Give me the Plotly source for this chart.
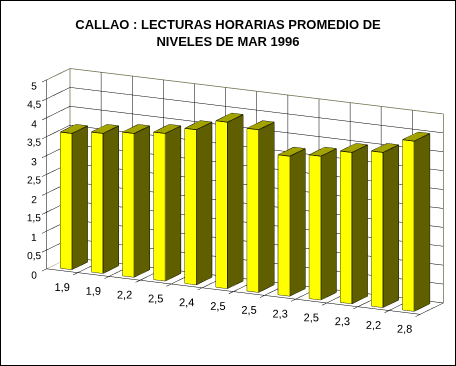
import plotly.graph_objects as go
import numpy as np

# ---------------- data ----------------
categories = ["1,9", "1,9", "2,2", "2,5", "2,4", "2,5", "2,5", "2,3", "2,5", "2,3", "2,2", "2,8"]
values = [3.6, 3.7, 3.8, 3.9, 4.1, 4.4, 4.3, 3.7, 3.8, 4.0, 4.1, 4.5]
z_tickvals = [0, 0.5, 1, 1.5, 2, 2.5, 3, 3.5, 4, 4.5, 5]
z_ticktext = ["0", "0,5", "1", "1,5", "2", "2,5", "3", "3,5", "4", "4,5", "5"]
title_text = "CALLAO : LECTURAS HORARIAS PROMEDIO DE<br>NIVELES DE MAR 1996"

# ---------------- geometry (style) ----------------
N = len(categories)
DEPTH = 1.5          # floor depth in category widths
ZMAX = 5
YMIN = -0.3          # room for tick marks in front of the floor
ZMIN = -0.7          # room for category labels under the floor
HW = 0.185           # bar half width
Y0, Y1 = 0.25, 1.25  # bar depth span
YELLOW = "#FFFF00"
SIDE = "#5F5F00"
TOP = "#A3A300"
OLIVE_EDGE = "#6E6E50"
SCALE = 2.32
ZWORLD = 5.6         # world height of 5 value units (in category widths)

# ---------------- bars as mesh ----------------
vx, vy, vz, I, J, K, fc = [], [], [], [], [], [], []
ex, ey, ez = [], [], []
for i, h in enumerate(values):
    cx = i + 0.5
    x0, x1 = cx - HW, cx + HW
    base = len(vx)
    pts = [(x0, Y0, 0), (x1, Y0, 0), (x1, Y1, 0), (x0, Y1, 0),
           (x0, Y0, h), (x1, Y0, h), (x1, Y1, h), (x0, Y1, h)]
    for p in pts:
        vx.append(p[0]); vy.append(p[1]); vz.append(p[2])
    faces = [((0, 1, 5), YELLOW), ((0, 5, 4), YELLOW),
             ((1, 2, 6), SIDE), ((1, 6, 5), SIDE),
             ((4, 5, 6), TOP), ((4, 6, 7), TOP),
             ((3, 2, 6), SIDE), ((3, 6, 7), SIDE),
             ((0, 3, 7), YELLOW), ((0, 7, 4), YELLOW),
             ((0, 1, 2), SIDE), ((0, 2, 3), SIDE)]
    for (a, b, c), col in faces:
        I.append(base + a); J.append(base + b); K.append(base + c); fc.append(col)
    edges = [(0, 1), (1, 2), (2, 3), (3, 0), (4, 5), (5, 6), (6, 7), (7, 4),
             (0, 4), (1, 5), (2, 6), (3, 7)]
    for a, b in edges:
        ex += [pts[a][0], pts[b][0], None]
        ey += [pts[a][1], pts[b][1], None]
        ez += [pts[a][2], pts[b][2], None]

fig = go.Figure()
fig.add_trace(go.Mesh3d(x=vx, y=vy, z=vz, i=I, j=J, k=K, facecolor=fc,
                        flatshading=True, hoverinfo="skip",
                        lighting=dict(ambient=1, diffuse=0, specular=0, roughness=1, fresnel=0)))
fig.add_trace(go.Scatter3d(x=ex, y=ey, z=ez, mode="lines", hoverinfo="skip",
                           line=dict(color="black", width=1.5), showlegend=False))


# ---------------- walls / grid ----------------
def seglines(segs, color, width=1):
    xs, ys, zs = [], [], []
    for (a, b) in segs:
        xs += [a[0], b[0], None]; ys += [a[1], b[1], None]; zs += [a[2], b[2], None]
    fig.add_trace(go.Scatter3d(x=xs, y=ys, z=zs, mode="lines", hoverinfo="skip",
                               line=dict(color=color, width=width), showlegend=False))

black = []
olive = []
for z in z_tickvals:
    if 0 < z < ZMAX:
        black.append(((0, DEPTH, z), (N, DEPTH, z)))
        black.append(((0, 0, z), (0, DEPTH, z)))
    black.append(((0, 0, z), (0, YMIN, z)))          # value-axis tick marks
black.append(((0, DEPTH, 0), (N, DEPTH, 0)))
olive.append(((0, DEPTH, ZMAX), (N, DEPTH, ZMAX)))
olive.append(((0, 0, ZMAX), (0, DEPTH, ZMAX)))
olive.append(((0, DEPTH, 0), (0, DEPTH, ZMAX)))
olive.append(((N, DEPTH, 0), (N, DEPTH, ZMAX)))
for k in range(1, N):
    black.append(((k, 0, 0), (k, DEPTH, 0)))
    black.append(((k, DEPTH, 0), (k, DEPTH, ZMAX)))
for k in range(0, N + 1):
    black.append(((k, 0, 0), (k, YMIN, 0)))          # category tick marks
black.append(((N, 0, 0), (N, DEPTH, 0)))
black.append(((0, 0, 0), (N, 0, 0)))
black.append(((0, 0, 0), (0, 0, ZMAX)))
seglines(black, "black", 1)
seglines(olive, OLIVE_EDGE, 1.5)
seglines([((0, 0, 0), (0, DEPTH, 0))], "#A0A0A0", 1)

# category labels under the front edge
fig.add_trace(go.Scatter3d(x=[i + 0.5 for i in range(N)], y=[0] * N, z=[-0.45] * N,
                           mode="text", text=categories, hoverinfo="skip", showlegend=False,
                           textposition="middle center",
                           textfont=dict(size=11, color="black", family="Arial, Liberation Sans")))

phi = np.radians(23.5)
eps = np.radians(18.0)
r = 1.6
eye = dict(x=r * np.sin(phi) * np.cos(eps), y=-r * np.cos(phi) * np.cos(eps), z=r * np.sin(eps))
shift_r, shift_up = -0.082, 0.112
center = dict(x=shift_r * np.cos(phi), y=shift_r * np.sin(phi), z=shift_up)

axis_common = dict(showbackground=False, showspikes=False, zeroline=False, title=dict(text=""),
                   showline=False, showgrid=False)
fig.update_layout(
    width=456, height=366,
    margin=dict(l=0, r=0, t=0, b=0),
    paper_bgcolor="white",
    showlegend=False,
    separators=",.",
    font=dict(family="Arial, Liberation Sans", color="black"),
    title=dict(text="<b>" + title_text + "</b>", x=0.5, xanchor="center", y=1 - 29 / 366, yanchor="top",
               font=dict(family="Arial, Liberation Sans", size=13, color="black")),
    scene=dict(
        domain=dict(x=[0, 1], y=[0, 360 / 366]),
        aspectmode="manual",
        aspectratio=dict(x=SCALE, y=SCALE * (DEPTH - YMIN) / 12,
                         z=SCALE * ZWORLD / 12 * (ZMAX - ZMIN) / ZMAX),
        camera=dict(eye=eye, up=dict(x=0, y=0, z=1), center=center,
                    projection=dict(type="orthographic")),
        xaxis=dict(range=[-0.001, N + 0.001], showticklabels=False, ticks="", **axis_common),
        yaxis=dict(range=[YMIN, DEPTH + 0.001], showticklabels=False, ticks="", **axis_common),
        zaxis=dict(range=[ZMIN, ZMAX + 0.001], tickvals=z_tickvals, ticktext=z_ticktext, ticks="",
                   showticklabels=True, tickangle=0,
                   tickfont=dict(size=11, family="Arial, Liberation Sans"), **axis_common),
    ),
    shapes=[dict(type="rect", xref="paper", yref="paper", x0=0, y0=0, x1=1, y1=1,
                 line=dict(color="black", width=2), layer="above")],
)

fig.write_html("out.html", config={"displayModeBar": False})
